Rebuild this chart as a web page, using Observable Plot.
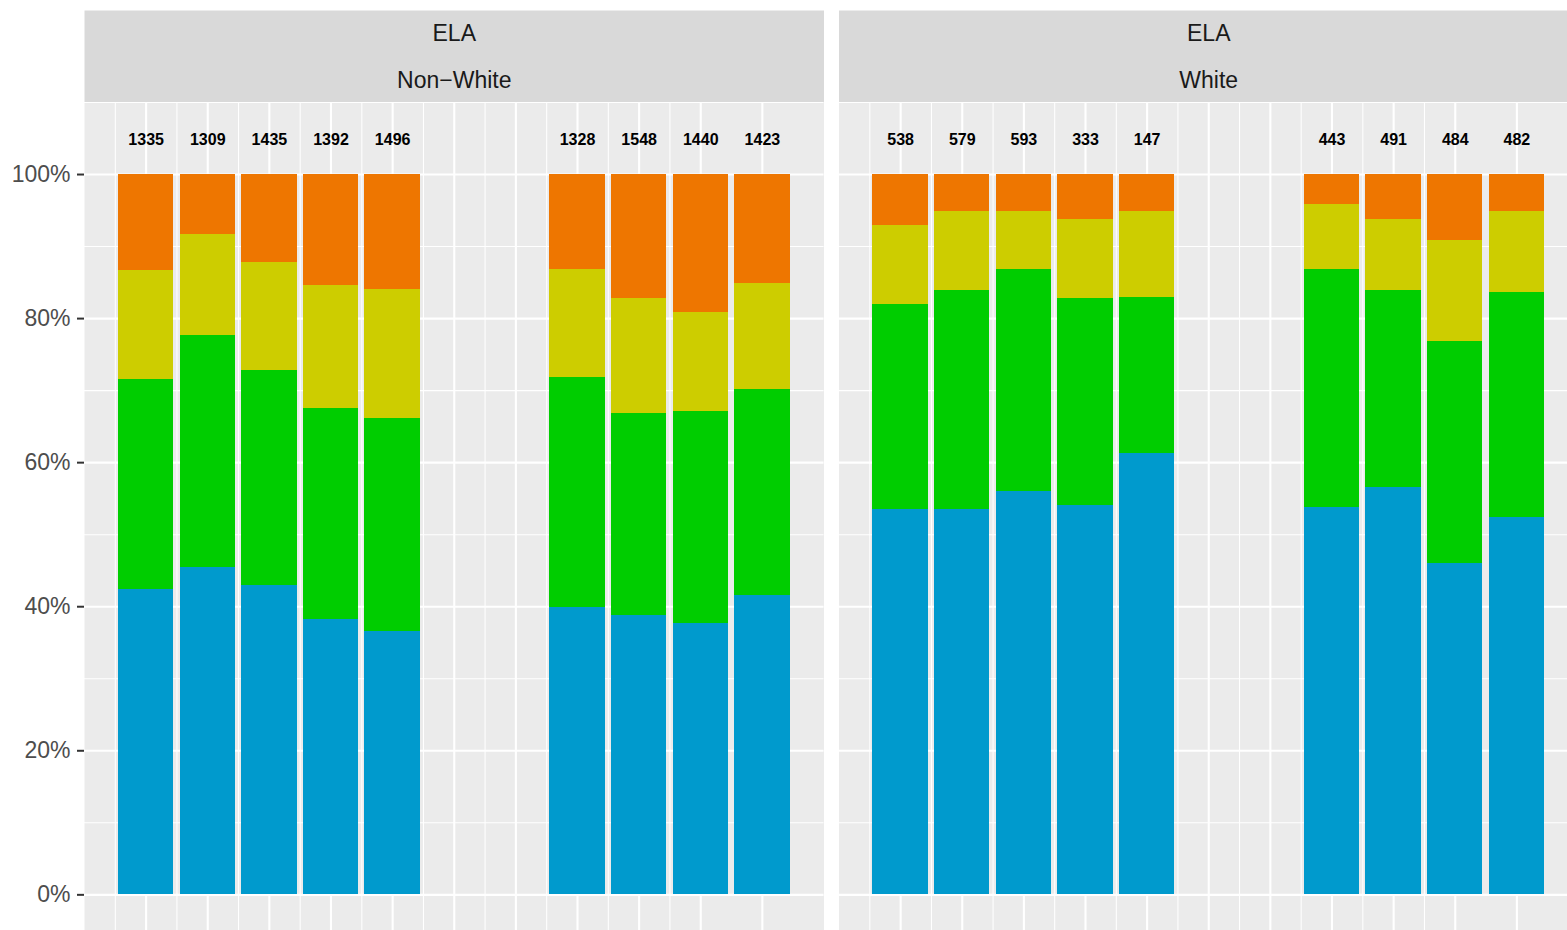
<!DOCTYPE html>
<html>
<head>
<meta charset="utf-8">
<script src="https://cdn.jsdelivr.net/npm/d3@7"></script>
<script src="https://cdn.jsdelivr.net/npm/@observablehq/plot@0.6"></script>
<style>
  html, body { margin: 0; padding: 0; background: #ffffff; overflow: hidden; }
  #chart { width: 1567px; height: 930px; overflow: hidden; }
  #chart svg { max-width: none !important; }
</style>
</head>
<body>
<div id="chart"></div>
<script>
// ---------------- data ----------------
const subject = "ELA";
const groups = ["Non−White", "White"];
const periods = ["2015", "2016", "2017", "2018", "2019", "2020", "2021", "2022", "2023", "2024", "2025"];
const levels = ["Level 1", "Level 2", "Level 3", "Level 4"]; // bottom → top

// number of students tested
const nonWhiteN = [1335, 1309, 1435, 1392, 1496, null, null, 1328, 1548, 1440, 1423];
const whiteN    = [538, 579, 593, 333, 147, null, null, 443, 491, 484, 482];

// percent of students at each level
const nonWhiteLevel1 = [42.4, 45.4, 42.9, 38.2, 36.5, null, null, 39.9, 38.8, 37.7, 41.6];
const nonWhiteLevel2 = [29.1, 32.3, 29.9, 29.3, 29.6, null, null, 31.9, 28.0, 29.4, 28.5];
const nonWhiteLevel3 = [15.2, 14.0, 15.0, 17.1, 17.9, null, null, 15.0, 16.0, 13.8, 14.8];
const nonWhiteLevel4 = [13.3,  8.3, 12.2, 15.4, 16.0, null, null, 13.2, 17.2, 19.1, 15.1];

const whiteLevel1 = [53.5, 53.5, 56.0, 54.0, 61.3, null, null, 53.8, 56.6, 46.0, 52.4];
const whiteLevel2 = [28.5, 30.4, 30.8, 28.8, 21.6, null, null, 33.0, 27.3, 30.8, 31.2];
const whiteLevel3 = [10.9, 11.0,  8.1, 10.9, 12.0, null, null,  9.0,  9.8, 14.0, 11.2];
const whiteLevel4 = [ 7.1,  5.1,  5.1,  6.3,  5.1, null, null,  4.2,  6.3,  9.2,  5.2];

const yTicks = [0, 20, 40, 60, 80, 100];
const yMinorTicks = [10, 30, 50, 70, 90, 110];
const labelY = 105; // where the counts are written (percent units)

// ---------------- tables built from the arrays ----------------
const series = {
  "Non−White": {n: nonWhiteN, levels: [nonWhiteLevel1, nonWhiteLevel2, nonWhiteLevel3, nonWhiteLevel4]},
  "White":     {n: whiteN,    levels: [whiteLevel1, whiteLevel2, whiteLevel3, whiteLevel4]}
};
const segments = [];
const totals = [];
for (const g of groups) {
  const s = series[g];
  periods.forEach((p, i) => {
    if (s.n[i] == null) return;
    let cum = 0;
    levels.forEach((lv, k) => {
      const v = s.levels[k][i];
      segments.push({group: g, period: p, idx: i + 1, level: lv, y1: cum, y2: cum + v});
      cum += v;
    });
    totals.push({group: g, period: p, idx: i + 1, n: s.n[i]});
  });
}
const xMajor = periods.map((p, i) => i + 1);
const xMinor = periods.slice(0, -1).map((p, i) => i + 0.5);
const strips = groups.map(g => ({group: g, subject}));

// ---------------- styling ----------------
const levelColors = ["#009ACD", "#00CD00", "#CDCD00", "#EE7600"];
const barWidth = 0.9;
const W = 1578, H = 930, ML = 84, MT = 102;
const panelGap = 15;
const panelW = (W - ML - panelGap) / 2;
const panelH = H - MT;

const chart = Plot.plot({
  width: W,
  height: H,
  marginLeft: ML,
  marginRight: 0,
  marginTop: MT,
  marginBottom: 0,
  style: {fontFamily: "'Liberation Sans', Arial, Helvetica, sans-serif", background: "#ffffff", overflow: "visible", maxWidth: "none"},
  fx: {domain: groups, paddingInner: panelGap / (panelW + panelGap), paddingOuter: 0, round: false, axis: null, label: null},
  x: {domain: [0, 12], axis: null},
  y: {domain: [-4.95, 110], axis: null},
  color: {domain: levels, range: levelColors},
  marks: [
    Plot.frame({fill: "#EBEBEB"}),
    Plot.frame({fill: "#D9D9D9", insetTop: -92, insetBottom: panelH}),
    Plot.ruleY(yMinorTicks, {stroke: "#ffffff", strokeWidth: 1.05}),
    Plot.ruleX(xMinor, {stroke: "#ffffff", strokeWidth: 1.05}),
    Plot.ruleY(yTicks, {stroke: "#ffffff", strokeWidth: 2.1}),
    Plot.ruleX(xMajor, {stroke: "#ffffff", strokeWidth: 2.1}),
    Plot.rect(segments, {
      fx: "group",
      x1: d => d.idx - barWidth / 2,
      x2: d => d.idx + barWidth / 2,
      y1: "y1",
      y2: "y2",
      fill: "level",
      shapeRendering: "crispEdges"
    }),
    Plot.text(totals, {
      fx: "group",
      x: "idx",
      y: () => labelY,
      text: d => String(d.n),
      fontSize: 16,
      fontWeight: "bold",
      fill: "#000000",
      dy: 1
    }),
    Plot.text(strips, {fx: "group", text: "subject", frameAnchor: "top", lineAnchor: "middle", dy: -68.4, fontSize: 23, fill: "#1A1A1A"}),
    Plot.text(strips, {fx: "group", text: "group", frameAnchor: "top", lineAnchor: "middle", dy: -21.7, fontSize: 23, fill: "#1A1A1A"}),
    Plot.axisY(yTicks, {tickSize: 7, stroke: "#333333", strokeWidth: 2, fill: "none", label: null}),
    Plot.axisY(yTicks, {tickSize: 0, tickPadding: 14, fill: "#4D4D4D", fontSize: 23, tickFormat: d => d + "%", label: null})
  ]
});
document.getElementById("chart").appendChild(chart);
</script>
</body>
</html>
